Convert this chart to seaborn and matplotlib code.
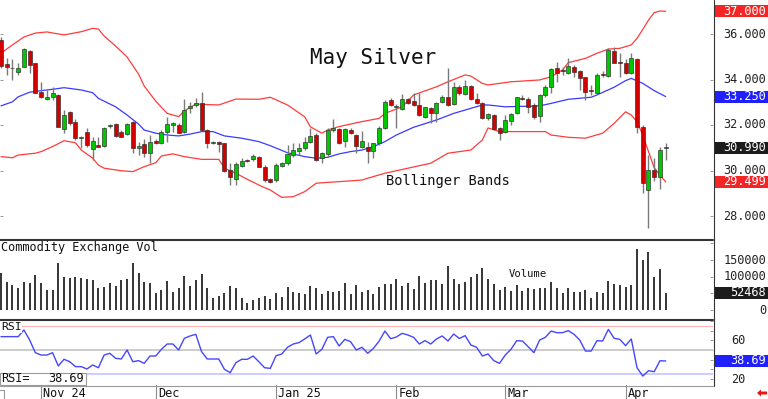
import numpy as np
import pandas as pd
import matplotlib
matplotlib.use("Agg")
import matplotlib.pyplot as plt
import seaborn as sns
from matplotlib.transforms import blended_transform_factory
from matplotlib.patches import Rectangle, Polygon
from matplotlib.lines import Line2D

# ---------------- data ----------------
opens = [35.74, 34.67, 34.49, 34.32, 34.56, 35.25, 34.71, 33.46, 33.14, 33.24,
         33.32, 31.81, 32.59, 32.15, 31.44, 31.68, 30.93, 31.12, 31.08, 31.94,
         32.04, 31.71, 31.59, 32.13, 30.98, 31.15, 30.76, 31.31, 31.20, 31.68,
         31.99, 32.00, 31.71, 32.76, 32.87, 32.95, 31.78, 31.20, 31.27, 31.20,
         30.02, 29.63, 30.21, 30.45, 30.49, 30.61, 30.17, 29.63, 29.58, 30.21,
         30.32, 30.68, 30.87, 30.98, 31.27, 31.56, 30.54, 30.73, 31.78, 31.81,
         31.31, 31.78, 31.54, 31.05, 31.05, 30.87, 31.20, 31.86, 33.10, 32.79,
         32.69, 33.13, 33.07, 32.88, 32.34, 32.73, 32.54, 33.02, 33.24, 32.92,
         33.66, 33.36, 33.71, 33.13, 32.95, 32.29, 32.44, 31.86, 31.71, 32.19,
         32.51, 33.19, 33.14, 32.88, 32.40, 33.32, 33.66, 34.49, 34.41, 34.30,
         34.56, 34.39, 34.10, 33.53, 33.42, 34.22, 34.15, 35.27, 34.77, 34.71,
         34.30, 34.89, 31.90, 29.14, 30.02, 29.73, 30.99]
highs = [35.87, 34.95, 34.90, 34.73, 35.39, 35.30, 34.74, 33.90, 33.54, 33.68,
         33.35, 32.66, 32.62, 32.26, 31.52, 31.86, 31.49, 31.49, 31.91, 32.04,
         32.09, 31.78, 32.09, 32.18, 31.27, 31.37, 31.56, 31.37, 31.78, 32.37,
         32.15, 32.10, 33.14, 33.02, 33.20, 33.44, 31.81, 31.28, 31.30, 31.22,
         30.32, 30.39, 30.54, 30.49, 30.73, 30.64, 30.24, 29.66, 30.32, 30.39,
         31.12, 31.20, 31.20, 31.49, 31.88, 31.64, 30.83, 31.86, 32.25, 31.86,
         31.86, 31.86, 31.60, 31.75, 31.27, 31.22, 31.96, 33.10, 33.17, 32.92,
         33.36, 33.19, 33.39, 33.42, 32.80, 32.80, 33.02, 33.32, 34.49, 33.90,
         33.76, 33.98, 33.76, 33.39, 33.02, 32.54, 32.47, 31.93, 32.44, 32.51,
         33.24, 33.32, 33.22, 32.95, 33.36, 33.76, 34.49, 34.78, 34.56, 34.93,
         34.64, 34.42, 34.12, 33.76, 34.30, 34.39, 35.37, 35.44, 35.15, 34.89,
         35.15, 34.93, 32.00, 30.68, 30.54, 31.02, 31.20]
lows = [34.51, 34.20, 33.98, 34.20, 34.54, 34.29, 33.39, 33.17, 33.10, 33.10,
        31.90, 31.65, 32.00, 31.34, 30.98, 31.05, 30.46, 31.03, 31.03, 31.87,
        31.47, 31.46, 31.56, 30.77, 30.68, 30.61, 30.32, 31.17, 31.15, 31.27,
        31.71, 31.64, 31.66, 32.51, 32.80, 31.75, 30.98, 31.17, 30.83, 29.95,
        29.36, 29.36, 30.17, 30.39, 30.43, 30.14, 29.51, 29.46, 29.51, 30.17,
        30.24, 30.61, 30.68, 30.90, 31.20, 30.42, 30.34, 30.61, 31.71, 31.17,
        31.05, 31.60, 30.76, 30.98, 30.32, 30.54, 31.12, 31.81, 32.84, 31.86,
        32.66, 32.92, 32.84, 32.40, 32.29, 32.10, 32.15, 32.98, 32.84, 32.88,
        33.32, 33.32, 33.10, 32.92, 32.25, 32.22, 31.78, 31.34, 31.64, 32.00,
        32.48, 33.10, 32.51, 32.25, 32.15, 33.24, 33.39, 33.90, 34.20, 34.24,
        34.12, 33.54, 33.10, 33.32, 33.39, 34.12, 34.10, 34.71, 34.12, 34.24,
        34.24, 31.66, 29.02, 27.46, 29.55, 29.17, 30.46]
closes = [34.59, 34.54, 34.49, 34.52, 35.33, 34.64, 33.42, 33.24, 33.24, 33.42,
          31.93, 32.44, 32.08, 31.42, 31.48, 31.12, 31.31, 31.05, 31.86, 31.98,
          31.52, 31.49, 32.03, 30.99, 31.09, 30.78, 31.27, 31.22, 31.71, 32.04,
          32.08, 31.66, 32.66, 32.84, 32.97, 31.78, 31.22, 31.24, 31.17, 29.99,
          29.73, 30.29, 30.43, 30.41, 30.64, 30.17, 29.58, 29.51, 30.24, 30.34,
          30.73, 30.90, 31.00, 31.27, 31.52, 30.46, 30.78, 31.78, 31.88, 31.20,
          31.81, 31.64, 31.09, 31.30, 30.87, 31.20, 31.86, 33.02, 32.88, 32.84,
          33.13, 32.98, 32.87, 32.44, 32.78, 32.51, 32.95, 33.24, 32.88, 33.66,
          33.39, 33.71, 33.13, 32.95, 32.29, 32.48, 31.81, 31.66, 32.22, 32.48,
          33.22, 33.15, 32.80, 32.37, 33.32, 33.66, 34.45, 34.30, 34.37, 34.59,
          34.34, 34.05, 33.46, 33.49, 34.20, 34.18, 35.30, 34.74, 34.73, 34.30,
          34.93, 31.90, 29.46, 30.02, 29.73, 30.90, 30.99]
volume = [110000, 85000, 75000, 67000, 83000, 82000, 105000, 80000, 60000, 60000,
          142000, 100000, 95000, 98000, 95000, 93000, 90000, 65000, 68000, 80000,
          72000, 90000, 93000, 140000, 112000, 83000, 80000, 52000, 60000, 87000,
          55000, 67000, 102000, 72000, 90000, 107000, 67000, 37000, 43000, 52000,
          73000, 65000, 37000, 20000, 30000, 35000, 42000, 33000, 50000, 38000,
          70000, 55000, 50000, 47000, 73000, 67000, 48000, 57000, 55000, 57000,
          80000, 48000, 75000, 55000, 60000, 48000, 70000, 77000, 77000, 92000,
          73000, 80000, 63000, 102000, 80000, 90000, 90000, 78000, 132000, 92000,
          78000, 83000, 98000, 108000, 127000, 92000, 78000, 60000, 70000, 57000,
          75000, 57000, 67000, 62000, 65000, 65000, 84000, 65000, 52000, 67000,
          55000, 55000, 60000, 37000, 55000, 50000, 88000, 77000, 75000, 70000,
          75000, 182000, 150000, 175000, 100000, 123000, 52468]
rsi = [63.8, 63.8, 63.8, 63.8, 70.7, 60.3, 47.2, 44.8, 44.8, 47.2,
       33.5, 40.4, 37.9, 32.8, 32.8, 30.4, 34.5, 31.7, 44.8, 46.6,
       41.4, 40.7, 50.0, 37.9, 39.0, 36.2, 43.8, 43.8, 50.7, 56.2,
       56.2, 50.0, 62.1, 64.5, 66.2, 48.3, 40.7, 40.7, 40.7, 30.0,
       26.6, 36.9, 40.4, 40.4, 43.8, 37.9, 31.7, 31.0, 44.1, 45.9,
       52.8, 56.2, 57.6, 61.4, 65.5, 45.9, 50.7, 63.1, 63.8, 54.1,
       61.0, 58.6, 50.0, 52.8, 46.6, 51.7, 59.3, 69.6, 61.7, 63.4,
       67.2, 65.5, 63.1, 56.2, 59.7, 56.2, 61.4, 64.5, 59.3, 66.5,
       61.9, 64.8, 55.2, 52.8, 43.8, 45.9, 39.0, 36.2, 44.8, 50.7,
       59.6, 59.3, 53.4, 47.2, 60.3, 63.1, 69.6, 67.9, 67.9, 70.0,
       66.2, 60.3, 48.9, 48.9, 59.6, 59.3, 71.3, 62.1, 61.0, 54.5,
       61.4, 31.7, 23.1, 28.6, 27.6, 38.9, 38.69]

upper_idx = [0, 2, 4, 6, 8, 11, 14, 16, 17, 18, 20, 22, 24, 25, 27, 29, 31, 32, 34, 38,
             41, 45, 47, 50, 53, 54, 56, 57, 59, 63, 66, 67, 70, 72, 76, 78, 81, 82, 84, 85,
             89, 94, 96, 98, 99, 102, 104, 106, 108, 110, 111, 112, 113, 114, 115, 116]
upper_val = [35.16, 35.52, 35.87, 36.04, 36.09, 35.96, 36.10, 36.25, 36.22, 35.91,
             35.47, 34.99, 34.24, 33.71, 33.05, 32.51, 32.37, 32.62, 32.92, 32.88,
             33.14, 33.13, 33.22, 32.88, 32.36, 31.92, 31.64, 31.78, 31.93, 32.15,
             32.29, 32.51, 32.80, 33.32, 33.68, 33.90, 34.20, 34.15, 33.83, 33.76,
             33.90, 33.98, 34.12, 34.42, 34.74, 34.93, 35.15, 35.34, 35.37, 35.52,
             35.81, 36.20, 36.61, 36.94, 37.01, 37.00]
mid_idx = [0, 2, 3, 5, 7, 9, 11, 14, 16, 17, 20, 22, 24, 25, 27, 29, 31, 33, 35, 37,
           39, 42, 45, 47, 50, 53, 55, 57, 59, 61, 63, 65, 67, 69, 72, 76, 79, 84, 85, 88,
           94, 96, 99, 103, 104, 107, 109, 110, 112, 114, 116]
mid_val = [32.84, 33.02, 33.24, 33.44, 33.51, 33.57, 33.64, 33.54, 33.42, 33.17,
           32.80, 32.44, 32.04, 31.78, 31.64, 31.56, 31.52, 31.60, 31.71, 31.71,
           31.52, 31.42, 31.27, 31.09, 30.78, 30.61, 30.54, 30.58, 30.73, 30.83,
           30.90, 31.05, 31.27, 31.56, 31.90, 32.22, 32.51, 32.88, 32.88, 32.80,
           32.84, 32.95, 33.13, 33.22, 33.32, 33.66, 33.95, 34.05, 33.83, 33.51,
           33.25]
lower_idx = [0, 2, 3, 6, 7, 9, 11, 13, 14, 16, 17, 18, 21, 23, 25, 27, 28, 30, 32, 35,
             38, 39, 41, 43, 44, 45, 47, 49, 51, 53, 55, 56, 59, 63, 64, 67, 71, 75, 78, 82,
             84, 85, 87, 95, 96, 99, 102, 105, 107, 109, 110, 111, 112, 113, 114, 115, 116]
lower_val = [30.61, 30.56, 30.68, 30.76, 30.83, 31.05, 31.31, 31.22, 30.90, 30.54,
             30.24, 30.10, 29.99, 29.95, 30.17, 30.34, 30.64, 30.73, 30.61, 30.49,
             30.49, 30.10, 29.88, 29.61, 29.49, 29.36, 29.14, 28.82, 28.85, 29.07,
             29.44, 29.46, 29.51, 29.58, 29.66, 29.88, 30.10, 30.32, 30.76, 30.90,
             31.34, 31.87, 31.71, 31.71, 31.56, 31.46, 31.42, 31.64, 32.07, 32.58,
             32.44, 32.14, 31.56, 30.83, 30.12, 29.80, 29.50]

month_idx = [7, 27, 48, 69, 88, 109]
month_labels = ["Nov 24", "Dec", "Jan 25", "Feb", "Mar", "Apr"]
price_ticks = [28, 30, 32, 34, 36]
vol_ticks = [0, 100000, 150000]
rsi_ticks = [20, 60]
rsi_levels = [75, 50, 25]
last_upper, last_mid, last_close, last_lower = 37.000, 33.250, 30.990, 29.499
last_vol, last_rsi = 52468, 38.69

# ---------------- style ----------------
sns.set_theme(style="white")
plt.rcParams['font.family'] = ['DejaVu Sans Mono', 'DejaVu Sans']

W, H = 768, 399
fig = plt.figure(figsize=(W / 100, H / 100), dpi=100)
fig.patch.set_facecolor('white')


def px_axes(l, t, r, b):
    ax = fig.add_axes([l / W, 1 - b / H, (r - l) / W, (b - t) / H])
    ax.set_facecolor('none')
    for s in ax.spines.values():
        s.set_visible(False)
    return ax


XP, X0 = 5.73, 1.0
xlim = ((0 - X0) / XP, (713 - X0) / XP)
x = np.arange(len(closes))

ax_p = px_axes(0, 0, 713, 239)
ax_v = px_axes(0, 240, 713, 319)
ax_r = px_axes(0, 320, 713, 385)
ax_d = px_axes(0, 385, 713, 399)

# ---------------- price panel ----------------
sns.lineplot(x=upper_idx, y=upper_val, ax=ax_p, color='#ff3b3b', lw=0.9, zorder=1)
sns.lineplot(x=lower_idx, y=lower_val, ax=ax_p, color='#ff3b3b', lw=0.9, zorder=1)
sns.lineplot(x=mid_idx, y=mid_val, ax=ax_p, color='#3a3aff', lw=0.9, zorder=1)

o = np.array(opens); c = np.array(closes)
ax_p.vlines(x, lows, highs, color='#7a7a7a', lw=1.0, zorder=2)
cols = np.where(c > o, '#00c800', np.where(c < o, '#d40000', '#7a7a7a'))
bottoms = np.minimum(o, c)
heights = np.maximum(np.abs(c - o), 0.035)
ax_p.bar(x, heights, bottom=bottoms, width=0.7, color=cols,
         edgecolor='#2a2a2a', linewidth=0.45, zorder=3)

ax_p.set_xlim(*xlim)
ax_p.set_ylim(28 - 23 / 22.75, 28 + 216 / 22.75)
ax_p.set_yticks(price_ticks)
ax_p.set_xticks([])
ax_p.tick_params(axis='y', which='both', left=True, right=True, direction='in',
                 length=2.5, width=0.6, color='#888888', labelleft=False, labelright=False)
ax_p.set_xlabel(''); ax_p.set_ylabel('')

ax_p.text(373 / 713, 1 - 58 / 239, "May Silver", transform=ax_p.transAxes,
          ha='center', va='center', fontsize=15, color='#111111')
ax_p.text(386 / 713, 1 - 181 / 239, "Bollinger Bands", transform=ax_p.transAxes,
          ha='left', va='center', fontsize=9.9, color='#111111')

# ---------------- volume panel ----------------
ax_v.vlines(x, 0, volume, lw=1.44, color='#3a3a3a', zorder=2)
ax_v.set_xlim(*xlim)
ax_v.set_ylim((310 - 319) * 3000, (310 - 240) * 3000)
ax_v.set_xticks([])
ax_v.set_yticks([0, 50000, 100000, 150000, 200000])
ax_v.tick_params(axis='y', left=False, right=True, direction='in', length=2.5, width=0.6,
                 color='#888888', labelleft=False, labelright=False)
ax_v.text(1 / 713, 1 - 7 / 79, "Commodity Exchange Vol", transform=ax_v.transAxes,
          ha='left', va='center', fontsize=8.6, color='#111111')
ax_v.text(528 / 713, 1 - 34 / 79, "Volume", transform=ax_v.transAxes,
          ha='center', va='center', fontsize=7.6, color='#111111')

# ---------------- RSI panel ----------------
for lvl, colr, lw in zip(rsi_levels, ['#ffb4b4', '#cccccc', '#ccccff'], [0.8, 1.4, 1.4]):
    ax_r.axhline(lvl, color=colr, lw=lw, zorder=1)
sns.lineplot(x=x, y=rsi, ax=ax_r, color='#4646ff', lw=1.0, zorder=2)
ax_r.set_xlim(*xlim)
ax_r.set_ylim(50 - 35 / 0.968, 50 + 30 / 0.968)
ax_r.set_xticks([])
ax_r.set_yticks([20, 30, 40, 50, 60, 70, 80])
ax_r.tick_params(axis='y', left=False, right=True, direction='in', length=2.5, width=0.6,
                 color='#888888', labelleft=False, labelright=False)
ax_r.set_xlabel(''); ax_r.set_ylabel('')
ax_r.text(1 / 713, 1 - 7 / 65, "RSI", transform=ax_r.transAxes, ha='left', va='center',
          fontsize=8.2, color='#111111', zorder=5,
          bbox=dict(facecolor='white', edgecolor='none', pad=0.5))
ax_r.add_patch(Rectangle((0, 0), 86 / 713, 12 / 65, transform=ax_r.transAxes,
                         facecolor='white', edgecolor='#9a9a9a', lw=0.8, zorder=6, clip_on=False))
ax_r.text(1 / 713, 6 / 65, "RSI=", transform=ax_r.transAxes, ha='left', va='center',
          fontsize=8.6, color='#111111', zorder=7)
ax_r.text(84 / 713, 6 / 65, f"{last_rsi:.2f}", transform=ax_r.transAxes, ha='right',
          va='center', fontsize=8.6, color='#111111', zorder=7)

# ---------------- date row ----------------
ax_d.set_xlim(*xlim)
ax_d.set_ylim(0, 1)
ax_d.set_xticks([]); ax_d.set_yticks([])
for mi, lab in zip(month_idx, month_labels):
    ax_d.axvline(mi, color='#8c8c8c', lw=0.8)
    ax_d.text(mi + 0.4, 0.42, lab, ha='left', va='center', fontsize=8.6, color='#111111')

# ---------------- frame lines ----------------
def fline(xs, ys, color, lw):
    fig.add_artist(Line2D([v / W for v in xs], [1 - v / H for v in ys],
                          transform=fig.transFigure, color=color, lw=lw))

fline([0, 713], [239.5, 239.5], '#333333', 1.5)
fline([0, 713], [319.5, 319.5], '#333333', 1.5)
fline([0, 713], [385.5, 385.5], '#9a9a9a', 0.8)
fline([713.5, 713.5], [0, 385.5], '#333333', 0.8)
fline([0, 4, 4], [389.5, 389.5, 399], '#9a9a9a', 0.8)

# ---------------- right labels ----------------
def rlabel(ax, val, s, boxcolor=None, boxh=None, color='#222222', xpx=766, ha='right'):
    tr = blended_transform_factory(fig.transFigure, ax.transData)
    if boxcolor is not None:
        ax.add_patch(Rectangle((714 / W, val - boxh / 2), 54 / W, boxh, transform=tr,
                               facecolor=boxcolor, edgecolor='none', clip_on=False, zorder=5))
        color = 'white'
    ax.text(xpx / W, val, s, transform=tr, ha=ha, va='center', fontsize=8.6,
            color=color, clip_on=False, zorder=6)

for t in price_ticks:
    rlabel(ax_p, t, f"{t:.3f}")
pb = 12 / 22.75
rlabel(ax_p, last_upper, f"{last_upper:.3f}", '#f42525', pb)
rlabel(ax_p, last_mid, f"{last_mid:.3f}", '#2020ff', pb)
rlabel(ax_p, last_close, f"{last_close:.3f}", '#1c1c1c', pb)
rlabel(ax_p, last_lower, f"{last_lower:.3f}", '#f42525', pb)

for t in vol_ticks:
    rlabel(ax_v, t, f"{t}")
rlabel(ax_v, last_vol, f"{last_vol}", '#1c1c1c', 36000)

for t in rsi_ticks:
    rlabel(ax_r, t, f"{t}", xpx=731, ha='left')
rlabel(ax_r, last_rsi, f"{last_rsi:.2f}", '#2020ff', 12 / 0.968)

# red arrow bottom right
ax_pts = [(757, 393), (761, 389.5), (761, 391.5), (767, 391.5), (767, 394.5),
          (761, 394.5), (761, 396.5)]
fig.add_artist(Polygon([(px / W, 1 - py / H) for px, py in ax_pts], closed=True,
                       transform=fig.transFigure, facecolor='#e81818', edgecolor='none'))

fig.savefig("out.png", dpi=100, facecolor='white')
